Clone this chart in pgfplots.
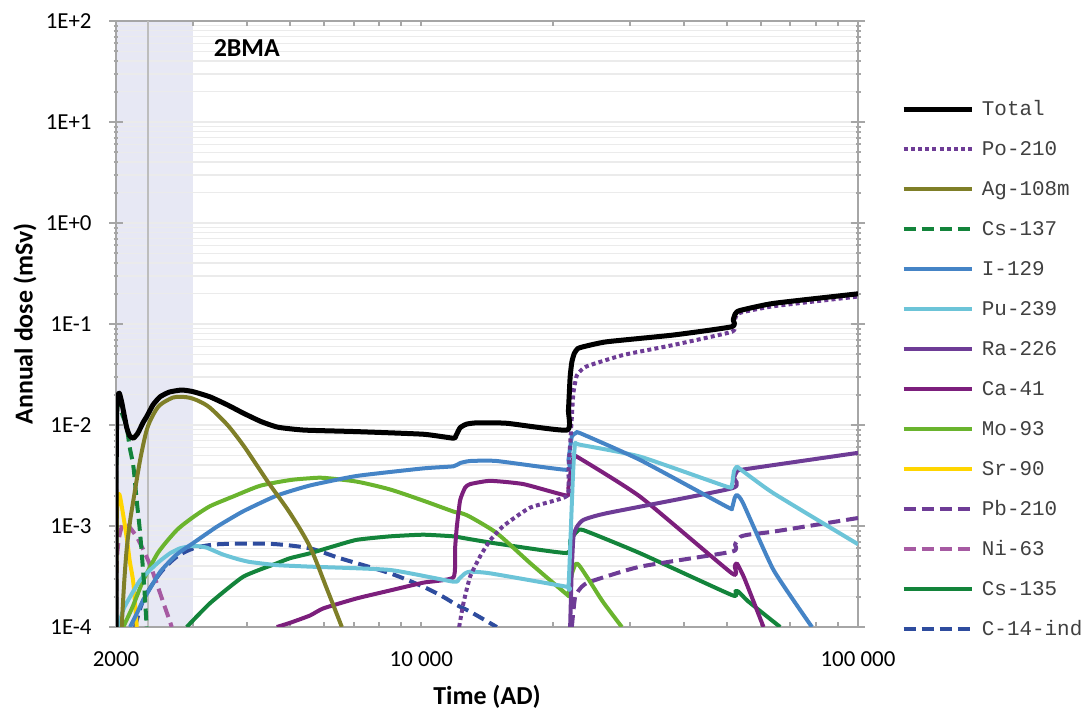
\documentclass[border=0pt]{standalone}
\usepackage{fontspec}
\setmainfont{Carlito}
\newfontfamily\legfont{Liberation Mono}
\usepackage{pgfplots}
\pgfplotsset{compat=1.18}
\definecolor{axisgray}{HTML}{A6A6A6}
\definecolor{gridgray}{HTML}{EBEBEB}
\definecolor{bandcol}{HTML}{E7E8F4}
\definecolor{vlinecol}{HTML}{BDBDBD}
\definecolor{cPo}{HTML}{6E3C96}
\definecolor{cAg}{HTML}{7F7F28}
\definecolor{cCs}{HTML}{13843B}
\definecolor{cI}{HTML}{4584C6}
\definecolor{cPu}{HTML}{6CC4D8}
\definecolor{cCa}{HTML}{7C1F7C}
\definecolor{cMo}{HTML}{6AB42E}
\definecolor{cSr}{HTML}{FFD500}
\definecolor{cNi}{HTML}{A65AA2}
\definecolor{cC}{HTML}{2E4C9E}
\definecolor{legtext}{HTML}{404040}
\begin{document}
\begin{tikzpicture}
\begin{axis}[
  at={(0,0)}, anchor=south west,
  scale only axis, width=371bp, height=303bp,
  xmode=log, ymode=log,
  xmin=2000, xmax=100000, ymin=1e-4, ymax=100,
  set layers,
  axis line style={draw=axisgray, line width=1bp},
  xtick={2000,10000,100000},
  xticklabels={2000,10 000,100 000},
  minor xtick={3000,4000,5000,6000,7000,8000,9000,10000,20000,30000,40000,50000,60000,70000,80000,90000},
  ytick={1e-4,1e-3,0.01,0.1,1,10,100},
  yticklabels={1E-4,1E-3,1E-2,1E-1,1E+0,1E+1,1E+2},
  minor ytick={2e-4,3e-4,4e-4,5e-4,6e-4,7e-4,8e-4,9e-4,2e-3,3e-3,4e-3,5e-3,6e-3,7e-3,8e-3,9e-3,0.02,0.03,0.04,0.05,0.06,0.07,0.08,0.09,0.2,0.3,0.4,0.5,0.6,0.7,0.8,0.9,2,3,4,5,6,7,8,9,20,30,40,50,60,70,80,90},
  ymajorgrids, yminorgrids,
  major grid style={draw=gridgray, line width=0.7bp},
  minor grid style={draw=gridgray, line width=0.7bp},
  tick style={draw=axisgray, line width=1bp},
  major x tick style={draw=none},
  xtick align=inside, ytick align=center,
  major tick length=7bp, minor tick length=2.5bp,
  ticklabel style={font=\fontsize{11.5}{13}\selectfont, text=black},
  xticklabel style={anchor=north, inner sep=0pt, yshift=-12bp},
  yticklabel style={anchor=east, inner sep=0pt, xshift=-8.5bp},
  xlabel={Time (AD)}, ylabel={Annual dose (mSv)},
  label style={font=\bfseries\fontsize{13}{15}\selectfont},
  xlabel style={at={(axis description cs:0.5,-0.1155)}, anchor=center},
  ylabel style={at={(axis description cs:-0.1226,0.5)}, anchor=center, rotate=0},
  reverse legend,
  legend cell align=left,
  legend image code/.code={\draw[#1] (0bp,0bp) -- (34bp,0bp);},
  legend style={draw=none, fill=none, at={(1,1)}, anchor=north west,
    xshift=21.35bp, yshift=-39bp, inner sep=0pt, row sep=10bp, column sep=3.9bp,
    font=\legfont\fontsize{10.5}{12}\selectfont, text=legtext,
    nodes={inner sep=0pt, text height=8bp, text depth=2bp}},
  every axis plot/.append style={line width=2bp, line join=round},
]
\begin{pgfonlayer}{axis background}
\fill[bandcol] (axis cs:2000,1e-4) rectangle (axis cs:3000,100);
\end{pgfonlayer}
\draw[vlinecol, line width=1.2bp] (axis cs:2370,1e-4) -- (axis cs:2370,100);

% C-14-ind
\addplot[cC, dash pattern=on 6bp off 3bp, smooth, tension=0.5] coordinates {(2211,0.0001)(2310,0.000185)(2522,0.00034)(2755,0.000496)(3007,0.0006)(3300,0.00065)(3586,0.000665)(4054,0.00067)(4667,0.00066)(5563,0.0006)(6521,0.000479)(8483,0.00034)(10113,0.00025)(11200,0.0002)(12061,0.000165)(12937,0.000142)(14892,0.0001)};
\addlegendentry{C-14-ind}
% Cs-135
\addplot[cCs, smooth, tension=0.3] coordinates {(2904,0.0001)(3283,0.000172)(3913,0.000315)(4667,0.000427)(5007,0.00048)(5563,0.000537)(6300,0.00063)(7118,0.00073)(8483,0.00079)(10113,0.00082)(11847,0.00079)(12489,0.00076)(14892,0.00067)(21545,0.00054)(21923,0.00072)(22710,0.00088)(23514,0.00091)(31711,0.000537)(51436,0.000207)(52400,0.000226)(53259,0.000224)(56000,0.00018)(66358,0.0001)};
\addlegendentry{Cs-135}
% Ni-63
\addplot[cNi, dash pattern=on 6bp off 3bp, smooth, tension=0.5] coordinates {(2000,0.0001)(2007,0.000396)(2020,0.00062)(2042,0.00085)(2070,0.00102)(2096,0.00106)(2150,0.00097)(2230,0.00078)(2310,0.00058)(2400,0.00040)(2479,0.00027)(2560,0.00018)(2635,0.000126)(2683,0.0001)};
\addlegendentry{Ni-63}
% Pb-210
\addplot[cPo, dash pattern=on 6bp off 3bp, smooth, tension=0.3] coordinates {(22119,0.0001)(22508,0.000199)(23300,0.00025)(24362,0.000281)(31711,0.000396)(51436,0.000557)(52300,0.00066)(53738,0.00078)(56000,0.00082)(64056,0.00088)(100000,0.0012)};
\addlegendentry{Pb-210}
% Sr-90
\addplot[cSr, smooth, tension=0.5] coordinates {(2000,0.0001)(2006,0.0010)(2020,0.0019)(2035,0.00207)(2060,0.0016)(2115,0.00078)(2150,0.00045)(2192,0.00027)(2231,0.0001)};
\addlegendentry{Sr-90}
% Mo-93
\addplot[cMo, smooth, tension=0.4] coordinates {(2078,0.0001)(2185,0.00016)(2310,0.00029)(2500,0.00055)(2755,0.00091)(3000,0.00122)(3283,0.00157)(3700,0.00195)(4274,0.0025)(5007,0.00285)(5563,0.00297)(5970,0.0030)(7118,0.00275)(8483,0.0023)(10113,0.00178)(11847,0.00139)(12273,0.00135)(12900,0.00124)(14892,0.00085)(17749,0.00043)(21545,0.00021)(21727,0.00021)(22100,0.00033)(22710,0.000427)(23939,0.000315)(26000,0.00018)(28795,0.0001)};
\addlegendentry{Mo-93}
% Ca-41
\addplot[cCa, smooth, tension=0.3] coordinates {(4667,0.0001)(5007,0.00011)(5563,0.00013)(5970,0.000153)(7118,0.000192)(8483,0.00023)(10113,0.000275)(11847,0.00031)(11950,0.0006)(12061,0.00098)(12273,0.0018)(12600,0.0024)(12937,0.0026)(14375,0.0028)(17134,0.0026)(21545,0.0020)(21727,0.0024)(22119,0.0042)(22307,0.0047)(22710,0.00486)(31711,0.00195)(51436,0.00034)(52200,0.00040)(52811,0.000427)(55000,0.00030)(60766,0.0001)};
\addlegendentry{Ca-41}
% Ra-226
\addplot[cPo, smooth, tension=0.3] coordinates {(21923,0.0001)(22100,0.00035)(22307,0.00078)(22710,0.00098)(23514,0.00115)(26604,0.00134)(51436,0.00236)(52000,0.0030)(52811,0.00345)(54000,0.0036)(100000,0.0053)};
\addlegendentry{Ra-226}
% Pu-239
\addplot[cPu, smooth, tension=0.3] coordinates {(2024,0.0001)(2080,0.00015)(2153,0.000198)(2270,0.00029)(2393,0.000367)(2520,0.00045)(2659,0.000537)(2800,0.0006)(2955,0.00063)(3100,0.00063)(3227,0.00061)(3380,0.00056)(3523,0.00052)(3800,0.00047)(4054,0.00044)(4667,0.00041)(5563,0.000396)(8483,0.000367)(11847,0.000281)(12200,0.00030)(12600,0.00034)(12937,0.000353)(14375,0.00034)(21545,0.00025)(21727,0.00024)(21923,0.00060)(22119,0.00168)(22307,0.0040)(22508,0.0066)(23000,0.0064)(31711,0.00486)(50099,0.00245)(51436,0.00255)(52000,0.0035)(52811,0.00387)(54000,0.0036)(64056,0.00211)(100000,0.00066)};
\addlegendentry{Pu-239}
% I-129
\addplot[cI, smooth, tension=0.3] coordinates {(2153,0.0001)(2230,0.000135)(2310,0.000185)(2522,0.00035)(2750,0.00052)(3007,0.00068)(3400,0.00098)(3913,0.0014)(4667,0.0020)(5563,0.00252)(7118,0.00313)(10113,0.00372)(11847,0.0039)(12273,0.0042)(12937,0.0044)(14892,0.0044)(21545,0.0036)(21727,0.0045)(22119,0.0077)(22600,0.0083)(23108,0.0083)(31711,0.0045)(50099,0.00155)(51436,0.0015)(52200,0.0019)(52811,0.00203)(54500,0.0017)(64056,0.000367)(78444,0.0001)};
\addlegendentry{I-129}
% Cs-137
\addplot[cCs, dash pattern=on 6bp off 3bp, smooth, tension=0.5] coordinates {(2000,0.0001)(2002,0.003)(2006,0.010)(2015,0.0155)(2024,0.0164)(2040,0.0150)(2070,0.0125)(2115,0.0096)(2150,0.0060)(2192,0.00387)(2230,0.0018)(2271,0.00085)(2318,0.00027)(2351,0.0001)};
\addlegendentry{Cs-137}
% Ag-108m
\addplot[cAg, smooth, tension=0.5] coordinates {(2061,0.0001)(2085,0.00025)(2115,0.00058)(2153,0.0011)(2192,0.0018)(2271,0.0045)(2351,0.0089)(2430,0.0125)(2522,0.0158)(2700,0.0187)(2828,0.0190)(2950,0.0186)(3100,0.0172)(3283,0.0148)(3600,0.0100)(3913,0.0063)(4200,0.0040)(4505,0.00255)(5007,0.00134)(5563,0.00062)(6100,0.00023)(6579,0.0001)};
\addlegendentry{Ag-108m}
% Po-210
\addplot[cPo, dash pattern=on 2bp off 1.6bp, smooth, tension=0.3] coordinates {(12210,0.0001)(12489,0.000172)(12937,0.000315)(13637,0.0005)(14375,0.00072)(15419,0.00100)(17749,0.00152)(21545,0.00198)(21727,0.0035)(21923,0.0065)(22119,0.0120)(22307,0.021)(22710,0.0310)(23500,0.0365)(24362,0.0392)(29038,0.0494)(37794,0.062)(51436,0.0837)(51900,0.098)(52400,0.115)(52811,0.123)(54000,0.130)(64056,0.150)(100000,0.187)};
\addlegendentry{Po-210}
% Total
\addplot[black, line width=2.5bp, smooth, tension=0.3] coordinates {(2000,0.0001)(2002,0.004)(2008,0.014)(2020,0.0195)(2035,0.0207)(2060,0.017)(2115,0.0095)(2150,0.0078)(2192,0.0074)(2240,0.0082)(2271,0.0092)(2310,0.0107)(2351,0.0121)(2430,0.0158)(2522,0.019)(2650,0.0212)(2828,0.0222)(3000,0.0214)(3283,0.0190)(3600,0.0158)(3913,0.0131)(4300,0.0108)(4700,0.0095)(5400,0.0089)(7118,0.0086)(10113,0.0081)(11847,0.0074)(12000,0.0078)(12273,0.0094)(12700,0.0102)(13402,0.0105)(15698,0.0104)(21545,0.0089)(21727,0.014)(21923,0.03)(22119,0.042)(22400,0.051)(22800,0.057)(23514,0.0596)(26604,0.0667)(37794,0.0778)(51436,0.094)(51800,0.11)(52300,0.125)(52811,0.132)(54000,0.137)(64056,0.160)(100000,0.199)};
\addlegendentry{Total}

\node[font=\bfseries\fontsize{13}{15}\selectfont] at (axis cs:3986,54) {2BMA};
\end{axis}
\pgfresetboundingbox
\path[use as bounding box] (-58bp,-41.5bp) rectangle (483.5bp,313.5bp);
\end{tikzpicture}
\end{document}
